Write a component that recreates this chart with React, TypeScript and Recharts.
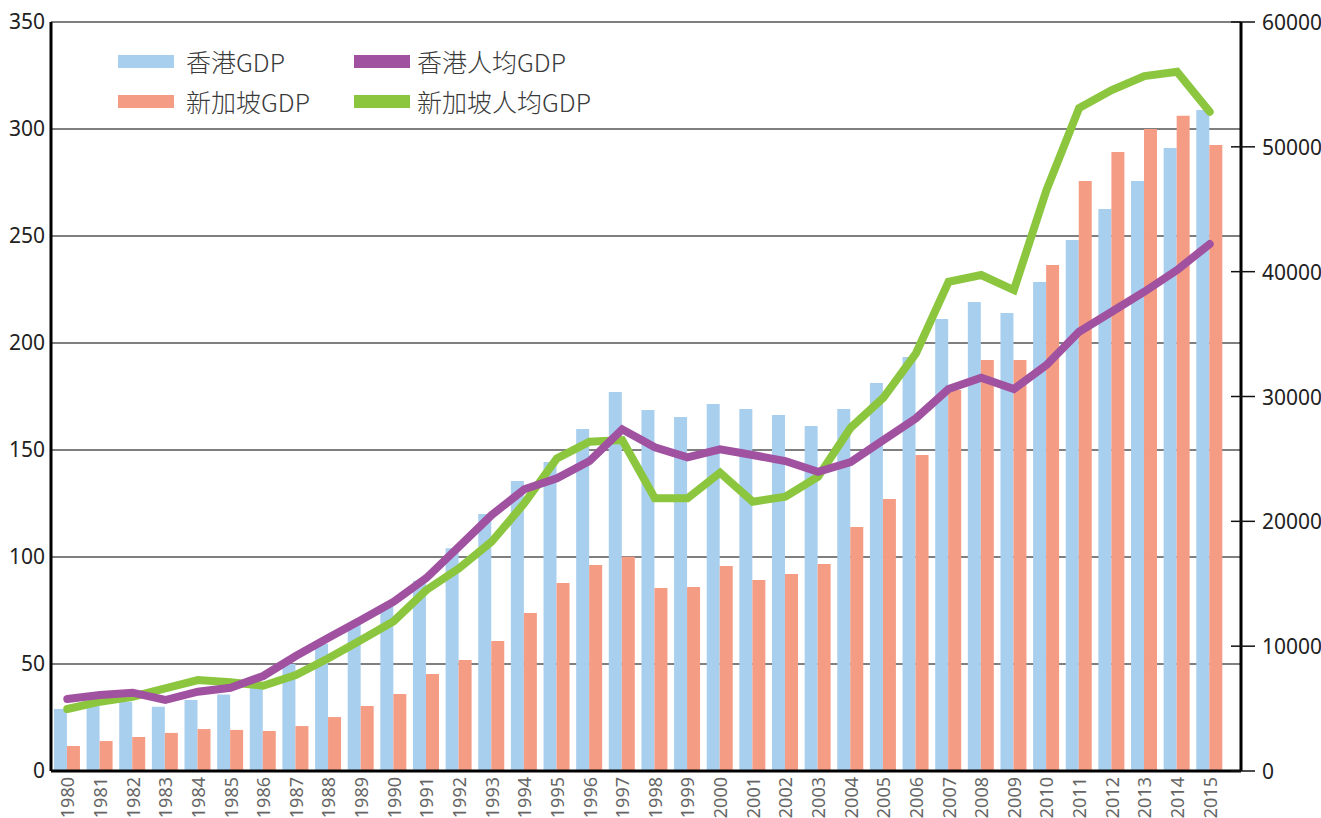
import React from "react";
import {
  ComposedChart, Bar, Line, XAxis, YAxis, CartesianGrid,
} from "recharts";

const YEARS = [
  "1980", "1981", "1982", "1983", "1984", "1985", "1986", "1987", "1988", "1989",
  "1990", "1991", "1992", "1993", "1994", "1995", "1996", "1997", "1998", "1999",
  "2000", "2001", "2002", "2003", "2004", "2005", "2006", "2007", "2008", "2009",
  "2010", "2011", "2012", "2013", "2014", "2015",
];

// 香港GDP
const HK_GDP = [
  29.0, 31.0, 32.4, 30.0, 33.2, 35.7, 40.0, 50.0, 59.5, 68.8,
  77.0, 88.9, 104.1, 120.1, 135.5, 144.4, 159.8, 177.1, 168.7, 165.4,
  171.5, 169.2, 166.4, 161.2, 169.2, 181.3, 193.5, 211.2, 219.2, 214.0,
  228.5, 248.1, 262.6, 275.7, 291.1, 308.9,
];

// 新加坡GDP
const SG_GDP = [
  11.7, 14.0, 15.9, 17.8, 19.6, 19.2, 18.7, 21.0, 25.2, 30.4,
  36.0, 45.3, 51.9, 60.7, 73.8, 87.8, 96.3, 100.1, 85.5, 86.0,
  95.8, 89.3, 92.1, 96.7, 114.0, 127.1, 147.7, 178.0, 192.1, 192.1,
  236.4, 275.7, 289.3, 300.0, 306.2, 292.5,
];

// 香港人均GDP
const HK_PER_CAPITA = [
  5767, 6088, 6272, 5687, 6352, 6672, 7610, 9212, 10677, 12095,
  13561, 15459, 17967, 20506, 22564, 23445, 24831, 27370, 25928, 25127,
  25768, 25312, 24831, 23974, 24750, 26500, 28250, 30600, 31500, 30600,
  32521, 35189, 36791, 38393, 40130, 42213,
];

// 新加坡人均GDP
const SG_PER_CAPITA = [
  4966, 5551, 5951, 6624, 7289, 7105, 6833, 7690, 9027, 10493,
  12000, 14498, 16236, 18367, 21442, 25047, 26377, 26513, 21843, 21843,
  23894, 21571, 21971, 23574, 27500, 29900, 33457, 39193, 39730, 38528,
  46538, 53106, 54548, 55670, 56014, 52808,
];

const LEFT_TICKS = [0, 50, 100, 150, 200, 250, 300, 350];
const RIGHT_TICKS = [0, 10000, 20000, 30000, 40000, 50000, 60000];

const data = YEARS.map((year, i) => ({
  year,
  hkGdp: HK_GDP[i],
  sgGdp: SG_GDP[i],
  hkPc: HK_PER_CAPITA[i],
  sgPc: SG_PER_CAPITA[i],
}));

const BLUE = "#a9cfef";
const ORANGE = "#f59c85";
const PURPLE = "#a0519f";
const GREEN = "#8cc63f";
const NUM_FONT = "'Noto Sans', sans-serif";

const legendItems = [
  { label: "香港GDP", color: BLUE, left: 118, top: 54 },
  { label: "新加坡GDP", color: ORANGE, left: 118, top: 94 },
  { label: "香港人均GDP", color: PURPLE, left: 354, top: 54 },
  { label: "新加坡人均GDP", color: GREEN, left: 354, top: 94 },
];

function YearTick(props: any) {
  const { x, payload } = props;
  const y = 777;
  return (
    <text
      x={x}
      y={y}
      transform={`rotate(-90 ${x} ${y})`}
      textAnchor="end"
      dominantBaseline="central"
      fontSize={18}
      fontFamily={NUM_FONT}
      fill="#666"
    >
      {payload.value}
    </text>
  );
}

function RightTick(props: any) {
  const { y, payload } = props;
  const axisX = 1241;
  return (
    <g>
      <line x1={axisX - 10} x2={axisX + 14} y1={y} y2={y} stroke="#111" strokeWidth={1.5} />
      <text
        x={axisX + 21}
        y={y}
        dominantBaseline="central"
        fontSize={21}
        fontFamily={NUM_FONT}
        fill="#222"
      >
        {payload.value}
      </text>
    </g>
  );
}

function ChartLegend() {
  return (
    <>
      {legendItems.map((item) => (
        <div
          key={item.label}
          style={{
            position: "absolute",
            left: item.left,
            top: item.top,
            display: "flex",
            alignItems: "center",
            height: 14,
          }}
        >
          <span style={{ width: 56, height: 13, background: item.color, display: "inline-block" }} />
          <span
            style={{
              marginLeft: item.left > 200 ? 7 : 12,
              fontFamily: "'Noto Sans CJK SC', sans-serif",
              fontWeight: 300,
              fontSize: 25,
              color: "#3a3a3a",
              whiteSpace: "nowrap",
              lineHeight: "14px",
            }}
          >
            {item.label}
          </span>
        </div>
      ))}
    </>
  );
}

export default function App() {
  return (
    <div style={{ position: "absolute", left: 0, top: 0, width: 1321, height: 818, background: "#fff" }}>
      <ComposedChart
        width={1321}
        height={818}
        data={data}
        margin={{ top: 22, right: 0, bottom: 0, left: 0 }}
        barGap={0}
        barCategoryGap="9%"
      >
        <CartesianGrid yAxisId="left" vertical={false} stroke="#000" strokeWidth={1.2} />
        <XAxis
          dataKey="year"
          height={47}
          interval={0}
          padding={{ left: 0, right: 15 }}
          axisLine={{ stroke: "#000", strokeWidth: 3 }}
          tickLine={false}
          tick={<YearTick />}
        />
        <YAxis
          yAxisId="left"
          width={51}
          domain={[0, 350]}
          ticks={LEFT_TICKS}
          interval={0}
          axisLine={{ stroke: "#000", strokeWidth: 3 }}
          tickLine={false}
          tickSize={4}
          tickMargin={2}
          tick={{ fontSize: 21, fill: "#222", fontFamily: NUM_FONT }}
        />
        <YAxis
          yAxisId="right"
          orientation="right"
          width={80}
          domain={[0, 60000]}
          ticks={RIGHT_TICKS}
          interval={0}
          axisLine={{ stroke: "#000", strokeWidth: 3 }}
          tickLine={false}
          tick={<RightTick />}
        />
        <Bar yAxisId="left" dataKey="hkGdp" name="香港GDP" fill={BLUE} isAnimationActive={false} />
        <Bar yAxisId="left" dataKey="sgGdp" name="新加坡GDP" fill={ORANGE} isAnimationActive={false} />
        <Line
          yAxisId="right"
          dataKey="sgPc"
          name="新加坡人均GDP"
          stroke={GREEN}
          strokeWidth={8}
          strokeLinecap="round"
          dot={false}
          type="linear"
          isAnimationActive={false}
        />
        <Line
          yAxisId="right"
          dataKey="hkPc"
          name="香港人均GDP"
          stroke={PURPLE}
          strokeWidth={8}
          strokeLinecap="round"
          dot={false}
          type="linear"
          isAnimationActive={false}
        />
      </ComposedChart>
      <ChartLegend />
    </div>
  );
}
